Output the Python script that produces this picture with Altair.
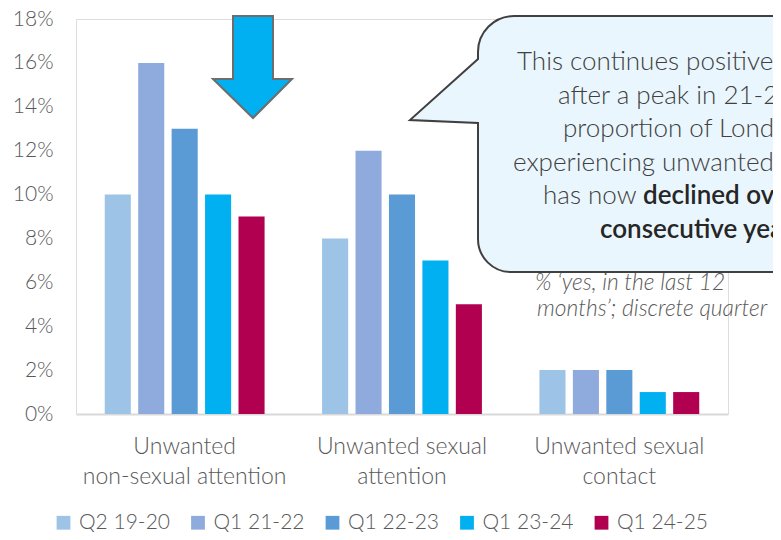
import altair as alt
import pandas as pd

# ---------------- data ----------------
categories = ["Unwanted|non-sexual attention", "Unwanted sexual|attention", "Unwanted sexual|contact"]
periods = ["Q2 19-20", "Q1 21-22", "Q1 22-23", "Q1 23-24", "Q1 24-25"]
q2_19_20 = [10, 8, 2]
q1_21_22 = [16, 12, 2]
q1_22_23 = [13, 10, 2]
q1_23_24 = [10, 7, 1]
q1_24_25 = [9, 5, 1]
y_ticks = [0, 2, 4, 6, 8, 10, 12, 14, 16, 18]
colors = ["#9DC3E6", "#8FAADC", "#5B9BD5", "#00B0F0", "#B0004F"]

callout_lines = [
    "This continues positive trends:",
    "after a peak in 21-22, the",
    "proportion of Londoners",
    "experiencing unwanted behaviour",
    "has now",
]
callout_bold = ["declined over two", "consecutive years."]
note_lines = ["% \u2018yes, in the last 12", "months\u2019; discrete quarter"]

series = [q2_19_20, q1_21_22, q1_22_23, q1_23_24, q1_24_25]
rows = []
for p, vals in zip(periods, series):
    for c, v in zip(categories, vals):
        rows.append({"category": c, "period": p, "value": v / 100})
df = pd.DataFrame(rows)

FONT = "Lato"
GREY = "#595959"
one = pd.DataFrame({"a": [0]})

# origin of plot area in page coords is (76, 19)
OX, OY = 76, 19


def text_layer(txt, px, py, size, color, weight=300, italic=False):
    return alt.Chart(one).mark_text(
        text=txt, align="left", baseline="middle", font=FONT, fontSize=size,
        color=color, fontWeight=weight, fontStyle="italic" if italic else "normal",
    ).encode(x=alt.value(px - OX), y=alt.value(py - OY))


callout_path = (
    "M 438 -3 L 874 -3 L 874 253 L 435 253 A 33 33 0 0 1 402 220 "
    "L 402 104 L 334 101 L 402 40 L 402 33 A 36 36 0 0 1 438 -3 Z"
)
arrow_path = "M 157 -3 L 197 -3 L 197 60 L 216 60 L 177 99 L 137 60 L 157 60 Z"

callout = alt.Chart(one).mark_point(
    shape=callout_path, size=4, filled=True, fill="#EAF6FD", stroke="#404040",
    strokeWidth=2, opacity=1,
).encode(x=alt.value(0), y=alt.value(0))

arrow = alt.Chart(one).mark_point(
    shape=arrow_path, size=4, filled=True, fill="#00B0F0", stroke="#6D6D6D",
    strokeWidth=2, opacity=1,
).encode(x=alt.value(0), y=alt.value(0))

bars = alt.Chart(df).mark_bar().encode(
    x=alt.X(
        "category:N", sort=categories,
        scale=alt.Scale(paddingInner=0, paddingOuter=0),
        axis=alt.Axis(
            title=None, labelExpr="split(datum.label, '|')", labelAngle=0,
            labelFontSize=23, labelFontWeight=300, labelColor=GREY, labelPadding=21,
            labelLineHeight=30, labelLimit=0, ticks=False, domainColor="#D9D9D9",
            domainWidth=2, labelBaseline="top", labelFont=FONT,
        ),
    ),
    xOffset=alt.XOffset("period:N", sort=periods,
                        scale=alt.Scale(paddingInner=0.22, paddingOuter=0.86)),
    y=alt.Y(
        "value:Q", scale=alt.Scale(domain=[0, 0.18], nice=False),
        axis=alt.Axis(
            title=None, values=[t / 100 for t in y_ticks], format=".0%", grid=False,
            domain=False, ticks=False, labelFontSize=21, labelFontWeight=300,
            labelColor=GREY, labelPadding=23, labelFont=FONT,
        ),
    ),
    color=alt.Color(
        "period:N", sort=periods,
        scale=alt.Scale(domain=periods, range=colors),
        legend=alt.Legend(
            title=None, orient="none", legendX=-23, legendY=493,
            direction="horizontal", columns=5, gridAlign="all",
            symbolType="square", symbolSize=190, symbolStrokeWidth=0,
            labelFontSize=21, labelFontWeight=300, labelColor=GREY, labelOffset=5,
            columnPadding=17.5, padding=0, labelFont=FONT,
        ),
    ),
)

layers = [callout, arrow, bars]
line_x = [517, 558, 563, 513, 543]
line_y = [62, 95.5, 129, 162.5, 196]
for t, px, py in zip(callout_lines, line_x, line_y):
    layers.append(text_layer(t, px, py, 26, "#404040"))
layers.append(text_layer(callout_bold[0], 643, 196, 26, "#262626", weight=600))
layers.append(text_layer(callout_bold[1], 600, 229.5, 26, "#262626", weight=600))
layers.append(text_layer(note_lines[0], 535, 283, 22.8, GREY, italic=True))
layers.append(text_layer(note_lines[1], 537, 309, 22.8, GREY, italic=True))

chart = alt.layer(*layers).properties(
    width=652, height=395,
    autosize=alt.AutoSizeParams(type="none"),
    padding={"left": 68, "top": 11, "right": 45, "bottom": 118},
).configure_view(stroke=None).configure(font=FONT)

chart.save("out.html", embed_options={"renderer": "svg", "actions": False})
